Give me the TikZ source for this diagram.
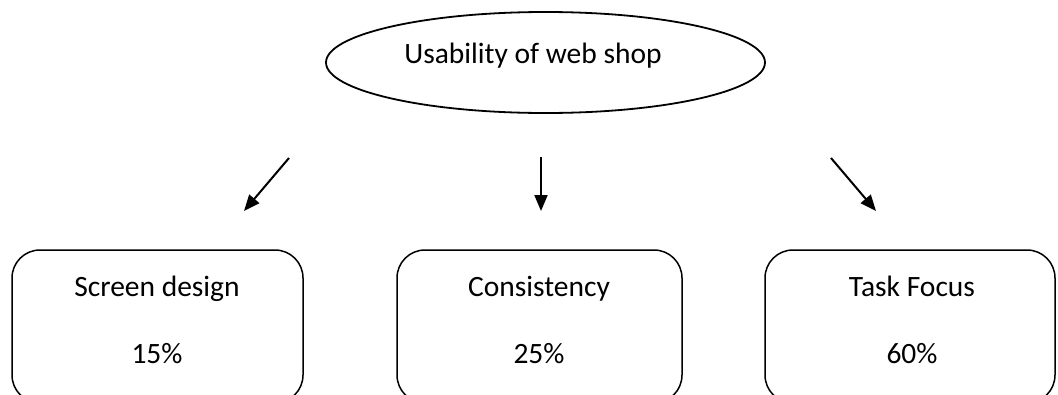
\documentclass[tikz,border=0pt]{standalone}
\usepackage{fontspec}
\setmainfont{Carlito}
\usetikzlibrary{arrows.meta,shapes.geometric}

\tikzset{
  topic/.style={draw, line width=1.8pt, ellipse, minimum width=439pt, minimum height=101pt, inner sep=0pt},
  factor/.style={draw, line width=1.5pt, rectangle, rounded corners=28pt, minimum height=153pt, inner sep=0pt},
  caption/.style={font=\fontsize{29.5}{35}\selectfont, inner sep=0pt, anchor=base},
  pointer/.style={line width=2pt, -{Triangle[length=16pt, width=13pt]}}
}

\begin{document}
\begin{tikzpicture}[x=1pt, y=-1pt]
  \useasboundingbox (0,0) rectangle (1058,394);
  \clip (0,0) rectangle (1058,394);

  % goal at the top
  \node[topic] (goal) at (545.5,62.5) {};
  \node[caption] (goaltext) at (533,63) {Usability of web shop};

  % the three weighted factors
  \node[factor, minimum width=291pt] (screen) at (157.5,326.5) {};
  \node[factor, minimum width=285pt] (consist) at (539.5,326.5) {};
  \node[factor, minimum width=290pt] (task) at (910,326.5) {};

  \node[caption] (screenname) at (157,296) {Screen design};
  \node[caption] (screenval) at (157,363) {15\%};
  \node[caption] (consistname) at (539,296) {Consistency};
  \node[caption] (consistval) at (539,363) {25\%};
  \node[caption] (taskname) at (912,296) {Task Focus};
  \node[caption] (taskval) at (912,363) {60\%};

  % arrows between goal and factors
  \coordinate (a1) at (289,158);
  \coordinate (b1) at (244,211);
  \coordinate (a2) at (541,157);
  \coordinate (b2) at (541,211);
  \coordinate (a3) at (831,158);
  \coordinate (b3) at (876,211);
  \draw[pointer] (a1) -- (b1);
  \draw[pointer] (a2) -- (b2);
  \draw[pointer] (a3) -- (b3);
\end{tikzpicture}
\end{document}
